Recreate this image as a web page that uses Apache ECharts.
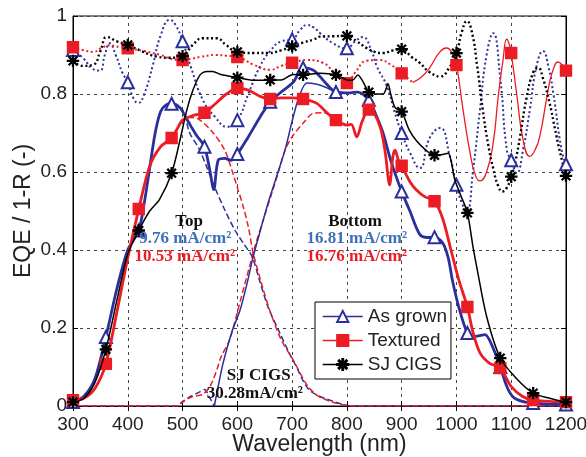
<!DOCTYPE html>
<html><head><meta charset="utf-8">
<script src="https://cdn.jsdelivr.net/npm/echarts@6/dist/echarts.min.js"></script>
<style>html,body{margin:0;padding:0;background:#fff}#c{width:586px;height:457px}</style>
</head><body><div id="c"></div>
<script>
// ---------- data ----------
const xTicks = [300,400,500,600,700,800,900,1000,1100,1200];
const eqeMarkerWl = [300,360,420,480,540,600,660,720,780,840,900,960,1020,1080,1140,1200];
const rMarkerWl = [300,400,500,600,700,800,900,1000,1100,1200];

const asGrownEQE = [[300,0.01],[320,0.025],[340,0.07],[360,0.177],[380,0.30],[400,0.40],[420,0.45],[430,0.52],[440,0.61],[450,0.70],[460,0.755],[470,0.772],[480,0.775],[495,0.765],[510,0.73],[525,0.695],[540,0.665],[549,0.61],[557,0.555],[565,0.63],[577,0.635],[588,0.63],[600,0.646],[620,0.69],[641,0.74],[660,0.78],[680,0.805],[702,0.83],[720,0.867],[740,0.86],[760,0.83],[780,0.805],[806,0.803],[820,0.805],[840,0.785],[855,0.74],[866,0.70],[880,0.63],[900,0.55],[915,0.50],[933,0.44],[948,0.432],[960,0.433],[975,0.418],[985,0.38],[993,0.32],[1005,0.25],[1020,0.187],[1030,0.178],[1040,0.18],[1052,0.183],[1065,0.155],[1080,0.10],[1092,0.05],[1103,0.024],[1120,0.012],[1140,0.008],[1170,0.005],[1200,0.004]];
const texturedEQE = [[300,0.015],[320,0.02],[340,0.045],[360,0.108],[380,0.24],[400,0.38],[420,0.505],[440,0.615],[460,0.665],[480,0.687],[490,0.71],[500,0.733],[520,0.745],[540,0.752],[560,0.775],[580,0.80],[600,0.815],[620,0.81],[640,0.795],[660,0.787],[680,0.79],[700,0.79],[720,0.787],[745,0.776],[765,0.75],[780,0.733],[790,0.725],[800,0.72],[808,0.722],[818,0.69],[828,0.73],[840,0.76],[850,0.75],[862,0.71],[870,0.65],[878,0.567],[884,0.64],[888,0.656],[894,0.63],[900,0.616],[915,0.575],[927,0.554],[942,0.537],[960,0.525],[975,0.48],[990,0.40],[1005,0.32],[1020,0.254],[1030,0.19],[1043,0.136],[1060,0.11],[1080,0.097],[1100,0.05],[1120,0.025],[1140,0.015],[1170,0.012],[1200,0.01]];
const sjCigsEQE = [[300,0.01],[320,0.02],[340,0.06],[360,0.145],[380,0.27],[400,0.39],[420,0.45],[440,0.50],[458,0.53],[480,0.597],[495,0.68],[508,0.76],[519,0.81],[532,0.849],[545,0.858],[555,0.858],[570,0.85],[600,0.842],[630,0.835],[660,0.836],[680,0.836],[702,0.85],[720,0.849],[751,0.853],[780,0.849],[800,0.836],[810,0.835],[820,0.849],[830,0.83],[840,0.805],[855,0.80],[866,0.80],[872,0.815],[875,0.827],[880,0.80],[888,0.765],[900,0.755],[913,0.71],[927,0.68],[945,0.655],[960,0.643],[975,0.645],[985,0.648],[990,0.63],[997,0.58],[1008,0.54],[1020,0.495],[1030,0.41],[1037,0.357],[1055,0.23],[1080,0.123],[1110,0.07],[1140,0.033],[1170,0.02],[1200,0.01]];

const asGrownR = [[300,0.913],[320,0.89],[335,0.865],[349,0.86],[358,0.9],[367,0.93],[378,0.9],[390,0.855],[400,0.83],[410,0.79],[419,0.777],[430,0.80],[445,0.87],[460,0.95],[477,0.99],[488,0.975],[500,0.935],[515,0.87],[537,0.785],[560,0.74],[581,0.716],[600,0.733],[620,0.80],[641,0.87],[660,0.91],[680,0.935],[700,0.94],[715,0.965],[727,0.977],[740,0.97],[751,0.956],[775,0.93],[800,0.917],[815,0.935],[829,0.946],[845,0.91],[855,0.87],[873,0.82],[888,0.75],[900,0.70],[915,0.65],[933,0.61],[951,0.687],[970,0.713],[988,0.64],[1000,0.567],[1010,0.52],[1019,0.50],[1030,0.6],[1043,0.76],[1055,0.9],[1067,0.956],[1080,0.84],[1092,0.656],[1100,0.63],[1110,0.597],[1122,0.66],[1134,0.76],[1146,0.87],[1158,0.91],[1168,0.87],[1177,0.80],[1192,0.656],[1200,0.62]];
const texturedR1 = [[300,0.92],[320,0.912],[337,0.908],[352,0.918],[367,0.925],[385,0.92],[400,0.917],[430,0.91],[460,0.90],[480,0.89],[500,0.887],[515,0.89],[532,0.895],[560,0.9],[580,0.898],[600,0.895],[630,0.875],[660,0.862],[680,0.872],[700,0.88],[727,0.887],[756,0.88],[778,0.853],[800,0.828],[815,0.855],[836,0.885],[860,0.887],[880,0.875],[900,0.853],[920,0.83]];
const texturedR2 = [[920,0.83],[935,0.842],[951,0.867],[968,0.905],[982,0.918],[992,0.905],[1000,0.874],[1012,0.76],[1025,0.648],[1035,0.59],[1043,0.577],[1055,0.60],[1067,0.674],[1076,0.79],[1085,0.887],[1092,0.941],[1097,0.925],[1100,0.905],[1110,0.80],[1122,0.68],[1134,0.64],[1143,0.655],[1152,0.69],[1170,0.83],[1178,0.868],[1185,0.882],[1193,0.875],[1200,0.86]];
const sjCigsR = [[300,0.885],[318,0.872],[337,0.875],[350,0.91],[362,0.946],[380,0.935],[400,0.926],[425,0.91],[453,0.896],[475,0.893],[500,0.897],[518,0.925],[537,0.943],[562,0.943],[580,0.925],[600,0.908],[630,0.905],[657,0.905],[680,0.912],[700,0.922],[720,0.932],[740,0.94],[751,0.947],[775,0.948],[800,0.949],[818,0.935],[836,0.918],[851,0.908],[866,0.905],[884,0.912],[900,0.915],[918,0.895],[933,0.88],[950,0.857],[970,0.845],[988,0.87],[1000,0.905],[1010,0.96],[1019,0.987],[1028,0.96],[1038,0.87],[1048,0.76],[1058,0.67],[1067,0.61],[1076,0.565],[1084,0.55],[1092,0.56],[1100,0.588],[1108,0.63],[1116,0.69],[1128,0.79],[1140,0.855],[1149,0.867],[1158,0.84],[1170,0.777],[1180,0.71],[1188,0.657],[1200,0.59]];

const asGrownTop = [[480,0.775],[500,0.76],[513,0.70],[530,0.66],[545,0.61],[559,0.56],[578,0.50],[596,0.45],[612,0.415],[627,0.383],[641,0.32],[656,0.254],[678,0.186],[695,0.135],[708,0.10],[720,0.065],[732,0.04],[750,0.025],[769,0.015],[790,0.005],[810,0],[1200,0]];
const texturedTop = [[480,0.687],[490,0.71],[500,0.733],[513,0.74],[530,0.735],[556,0.70],[577,0.656],[590,0.605],[600,0.56],[610,0.515],[620,0.46],[629,0.392],[645,0.31],[659,0.246],[680,0.17],[702,0.118],[727,0.054],[745,0.028],[769,0.012],[790,0.004],[805,0],[1200,0]];
const asGrownBottomLow = [[300,0],[490,0],[500,0.01],[515,0.025],[530,0.035],[540,0.042],[550,0.02],[558,0]];
const asGrownBottom = [[558,0],[565,0.05],[574,0.11],[590,0.19],[605,0.246],[617,0.31],[629,0.383],[642,0.45],[656,0.52],[672,0.59],[687,0.656],[700,0.73],[712,0.79],[727,0.828],[745,0.825],[760,0.818],[780,0.805],[790,0.803]];
const texturedBottom = [[300,0],[490,0],[500,0.012],[519,0.024],[537,0.03],[550,0.05],[562,0.09],[570,0.125],[586,0.17],[601,0.246],[617,0.33],[632,0.408],[648,0.48],[663,0.546],[675,0.60],[687,0.656],[700,0.69],[720,0.725],[738,0.75],[756,0.752],[770,0.745],[780,0.733]];

const annotations = [
  ['Top', 512, 0.472, 'k'],
  ['9.76 mA/cm\u00B2', 505, 0.428, 'b'],
  ['10.53 mA/cm\u00B2', 504, 0.382, 'r'],
  ['Bottom', 815, 0.472, 'k'],
  ['16.81 mA/cm\u00B2', 818, 0.428, 'b'],
  ['16.76 mA/cm\u00B2', 818, 0.382, 'r'],
  ['SJ CIGS', 639, 0.077, 'k'],
  ['30.28mA/cm\u00B2', 632, 0.033, 'k']
];

// ---------- styles ----------
const BLUE = '#2b2f9b', RED = '#ec1c24', BLACK = '#000';
const TXT = {k:'#111', b:'#3f6fb8', r:'#ec1c24'};
const STAR = 'path://M0 46L100 46L100 54L0 54Z M46 0L54 0L54 100L46 100Z M12.2 17.8L17.8 12.2L87.8 82.2L82.2 87.8Z M82.2 12.2L87.8 17.8L17.8 87.8L12.2 82.2Z';

function sizer(list, size) { return function (v) { return list.indexOf(v[0]) >= 0 ? size : 0; }; }
function mk(name, data, color, width, type, symbol, marks, size, z, smooth) {
  const s = {
    name: name, type: 'line', data: data, smooth: smooth,
    lineStyle: {color: color, width: width, type: type, cap: 'butt'},
    itemStyle: {color: color, borderColor: color, borderWidth: 1.4},
    z: z, animation: false, silent: true
  };
  if (symbol) {
    s.symbol = symbol; s.showSymbol = true; s.showAllSymbol = true;
    s.symbolSize = sizer(marks, size);
  } else {
    s.symbol = 'none';
  }
  return s;
}

const DOT = [2, 2.6], DASH = [6, 3];
const series = [
  mk('asR', asGrownR, BLUE, 2, DOT, 'emptyTriangle', rMarkerWl, 12, 2, 0.5),
  mk('texR1', texturedR1, RED, 2, DOT, 'rect', rMarkerWl, 11, 2, 0.5),
  mk('texR2', texturedR2, RED, 1.3, 'solid', 'rect', rMarkerWl, 11, 2, 0.5),
  mk('sjR', sjCigsR, BLACK, 2.4, DOT, STAR, rMarkerWl, 11, 2, 0.5),
  mk('asTop', asGrownTop, BLUE, 1.5, DASH, null, null, 0, 3, 0.3),
  mk('asBotLow', asGrownBottomLow, BLUE, 1.5, DASH, null, null, 0, 3, 0.3),
  mk('texTop', texturedTop, RED, 1.5, DASH, null, null, 0, 3, 0.3),
  mk('texBot', texturedBottom, RED, 1.5, DASH, null, null, 0, 3, 0.3),
  mk('asBot', asGrownBottom, BLUE, 1.5, 'solid', null, null, 0, 3, 0.3),
  mk('As grown', asGrownEQE, BLUE, 2.8, 'solid', 'emptyTriangle', eqeMarkerWl, 12, 4, 0.3),
  mk('Textured', texturedEQE, RED, 2.8, 'solid', 'rect', eqeMarkerWl, 11, 5, 0.3),
  mk('SJ CIGS', sjCigsEQE, BLACK, 1.5, 'solid', STAR, eqeMarkerWl, 11, 6, 0.3)
];

const axisFont = {fontFamily: 'Liberation Sans', fontSize: 19, color: '#222'};
const gridLine = {show: true, lineStyle: {color: '#444', type: [3, 4], width: 1}};
const plain = function (v) { return String(v); };

const chart = echarts.init(document.getElementById('c'), null, {renderer: 'canvas'});
chart.setOption({
  animation: false,
  backgroundColor: '#fff',
  grid: {left: 73, right: 20, top: 16, bottom: 51, show: true, borderColor: '#000', borderWidth: 1,
         backgroundColor: 'transparent', containLabel: false, outerBoundsMode: 'none'},
  xAxis: [{
    type: 'value', min: xTicks[0], max: xTicks[xTicks.length - 1], interval: 100,
    axisLine: {show: true, onZero: false, lineStyle: {color: '#000', width: 1}},
    axisTick: {show: true, inside: true, length: 5, lineStyle: {color: '#000'}},
    axisLabel: Object.assign({margin: 9, formatter: plain, hideOverlap: false}, axisFont),
    splitLine: gridLine,
    name: 'Wavelength (nm)', nameLocation: 'middle', nameGap: 27, nameMoveOverlap: false,
    nameTextStyle: {fontFamily: 'Liberation Sans', fontSize: 23, color: '#222'}
  }, {
    type: 'value', position: 'top', min: 300, max: 1200, interval: 100,
    axisLine: {show: true, lineStyle: {color: '#000'}},
    axisTick: {show: true, inside: true, length: 5, lineStyle: {color: '#000'}},
    axisLabel: {show: false}, splitLine: {show: false}
  }],
  yAxis: [{
    type: 'value', min: 0, max: 1, interval: 0.2,
    axisLine: {show: true, onZero: false, lineStyle: {color: '#000', width: 1}},
    axisTick: {show: true, inside: true, length: 5, lineStyle: {color: '#000'}},
    axisLabel: Object.assign({margin: 6, formatter: plain}, axisFont),
    splitLine: gridLine,
    name: 'EQE / 1-R (-)', nameLocation: 'middle', nameGap: 38, nameRotate: 90, nameMoveOverlap: false,
    nameTextStyle: {fontFamily: 'Liberation Sans', fontSize: 23, color: '#222'}
  }, {
    type: 'value', position: 'right', min: 0, max: 1, interval: 0.2,
    axisLine: {show: true, lineStyle: {color: '#000'}},
    axisTick: {show: true, inside: true, length: 5, lineStyle: {color: '#000'}},
    axisLabel: {show: false}, splitLine: {show: false}
  }],
  legend: {
    data: ['As grown', 'Textured', 'SJ CIGS'],
    orient: 'vertical', left: 315, top: 302,
    itemWidth: 40, itemHeight: 14, itemGap: 5,
    padding: [5, 4, 5, 7],
    backgroundColor: '#fff', borderColor: '#000', borderWidth: 1,
    textStyle: {fontFamily: 'Liberation Sans', fontSize: 19, color: '#222'},
    lineStyle: {width: 1.5},
    selectedMode: false
  },
  series: series
});

const els = annotations.map(function (a) {
  const p = chart.convertToPixel({xAxisIndex: 0, yAxisIndex: 0}, [a[1], a[2]]);
  return {
    type: 'text', x: p[0], y: p[1], z: 100, silent: true,
    style: {
      text: a[0], fill: TXT[a[3]],
      font: 'bold 17px "Liberation Serif"',
      align: 'center', verticalAlign: 'middle',
      textAlign: 'center', textVerticalAlign: 'middle'
    }
  };
});
chart.setOption({graphic: {elements: els}});
</script>
</body></html>
